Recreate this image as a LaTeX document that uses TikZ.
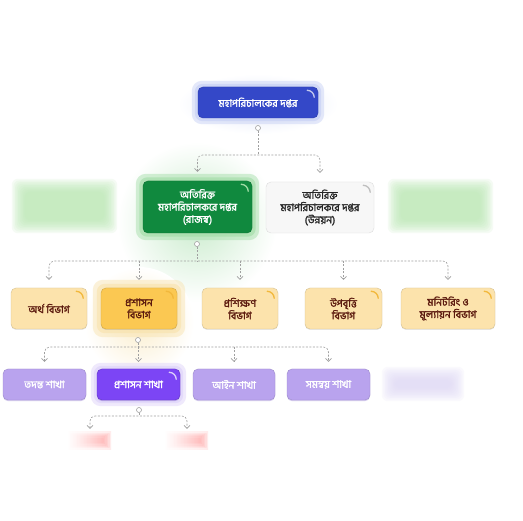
\documentclass[tikz,border=0pt]{standalone}
\usepackage{fontspec}
\newfontfamily\bnfont[Script=Bengali, AutoFakeBold=2]{Hind Siliguri}
\usetikzlibrary{arrows.meta,shadows}
\definecolor{dgblue}{RGB}{52,72,200}
\definecolor{dgglow}{RGB}{196,206,244}
\definecolor{revgreen}{RGB}{16,137,62}
\definecolor{revglow}{RGB}{160,220,165}
\definecolor{devfill}{RGB}{247,247,247}
\definecolor{devline}{RGB}{221,221,221}
\definecolor{deptfill}{RGB}{252,227,172}
\definecolor{depthot}{RGB}{251,200,82}
\definecolor{deptglow}{RGB}{248,226,172}
\definecolor{deptarc}{RGB}{242,184,60}
\definecolor{depttext}{RGB}{92,26,14}
\definecolor{brfill}{RGB}{185,163,238}
\definecolor{brhot}{RGB}{124,69,245}
\definecolor{brglow}{RGB}{220,208,250}
\definecolor{brshade}{RGB}{120,90,200}
\definecolor{linkgray}{RGB}{160,160,160}
\definecolor{hazegreen}{RGB}{180,230,172}
\definecolor{hazepurple}{RGB}{222,214,246}
\definecolor{hazered}{RGB}{255,160,160}
\tikzset{
  box/.style={rectangle, rounded corners=5pt, align=center, inner sep=1pt,
    font=\bnfont\bfseries\fontsize{10.3}{12.3}\selectfont},
  dgbox/.style={box, fill=dgblue, draw=dgblue!85!black, text=white, minimum width=120pt, minimum height=31pt},
  revbox/.style={box, fill=revgreen, draw=revgreen!85!black, text=white, minimum width=109pt, minimum height=52pt},
  devbox/.style={box, fill=devfill, draw=devline, text=black!85, minimum width=108pt, minimum height=51pt},
  deptbox/.style={box, fill=deptfill, draw=deptfill!85!black, text=depttext, minimum width=76pt, minimum height=41pt,
    drop shadow={shadow xshift=0pt, shadow yshift=-1pt, opacity=0.18}},
  depthl/.style={deptbox, fill=depthot, draw=depthot!85!black},
  brbox/.style={box, fill=brfill, draw=brfill!85!black, text=white, minimum width=83pt, minimum height=31pt,
    drop shadow={shadow xshift=0pt, shadow yshift=-1.2pt, opacity=0.3, fill=brshade}},
  brhl/.style={brbox, fill=brhot, draw=brhot!80!black},
  ghost/.style={rectangle, inner sep=0pt},
  hub/.style={circle, draw=linkgray, fill=white, line width=0.6pt, minimum size=5pt, inner sep=0pt},
  trunk/.style={draw=linkgray, line width=0.6pt, dash pattern=on 2pt off 1.5pt},
  link/.style={trunk, rounded corners=5pt},
  tip/.tip={Straight Barb[length=3pt, width=6pt]},
  corner/.style={line width=1.3pt, line cap=round},
}
\newcommand\hazebox[3]{% name, colour, corner radius
  \foreach \k in {0,...,8}{
    \fill[#2, opacity=0.13, rounded corners=#3]
      ([shift={(1.6*\k,1.6*\k)}]#1.north west) rectangle ([shift={(-1.6*\k,-1.6*\k)}]#1.south east);}}
\newcommand\haloof[3]{% name, colour, size
  \fill[#2, opacity=0.45, rounded corners=10pt]
    ([shift={(-#3,-#3)}]#1.north west) rectangle ([shift={(#3,#3)}]#1.south east);
  \fill[#2, opacity=0.6, rounded corners=8pt]
    ([shift={(-#3/2,-#3/2)}]#1.north west) rectangle ([shift={(#3/2,#3/2)}]#1.south east);}
\newcommand\cornerarc[2]{% name, colour
  \draw[corner, #2] ([xshift=-11pt, yshift=-3.5pt]#1.north east) arc[start angle=90, end angle=0, radius=7pt];}
\begin{document}
\begin{tikzpicture}[x=1pt, y=-1pt]
  \useasboundingbox[fill=white] (0,0) rectangle (523,521);
  % soft background glows
  \shade[inner color=revglow!55, outer color=white] (197,222) circle (80);
  \shade[inner color=deptglow!60, outer color=white] (139,322) circle (55);
  \shade[inner color=dgglow!50, outer color=white] (258,104) ellipse (80 and 30);

  % top level
  \node[dgbox] (dg) at (258,102.5) {মহাপরিচালকের দপ্তর};
  % additional DG offices
  \node[ghost, minimum width=105pt, minimum height=54pt] (gleft) at (64.5,206) {};
  \node[ghost, minimum width=105pt, minimum height=54pt] (gright) at (440.5,206) {};
  \node[revbox] (rev) at (197.5,207) {অতিরিক্ত\\মহাপরিচালকরে দপ্তর\\(রাজস্ব)};
  \node[devbox] (dev) at (320,207.5) {অতিরিক্ত\\মহাপরিচালকরে দপ্তর\\(উন্নয়ন)};
  % departments
  \node[deptbox] (dfin) at (49,308.5) {অর্থ বিভাগ};
  \node[depthl] (dadm) at (139,308.5) {প্রশাসন\\বিভাগ};
  \node[deptbox] (dtrn) at (240,308.5) {প্রশিক্ষণ\\বিভাগ};
  \node[deptbox, minimum width=77pt] (dstp) at (343.5,308.5) {উপবৃত্তি\\বিভাগ};
  \node[deptbox, minimum width=94pt] (dmon) at (448,308.5) {মনিটরিং ও\\মূল্যায়ন বিভাগ};
  % branches
  \node[brbox] (btdn) at (44.5,384.5) {তদন্ত শাখা};
  \node[brhl] (badm) at (138.5,384.5) {প্রশাসন শাখা};
  \node[brbox, minimum width=82pt] (blaw) at (234,384.5) {আইন শাখা};
  \node[brbox] (bcrd) at (328.5,384.5) {সমন্বয় শাখা};
  \node[ghost, minimum width=82pt, minimum height=34pt] (bmore) at (423,384) {};
  % sub-branches
  \node[ghost, minimum width=42pt, minimum height=17pt] (sone) at (90,440.5) {};
  \node[ghost, minimum width=42pt, minimum height=17pt] (stwo) at (187,440.5) {};

  % blurred placeholders
  \hazebox{gleft}{hazegreen}{6pt}
  \hazebox{gright}{hazegreen}{6pt}
  \hazebox{bmore}{hazepurple}{6pt}
  \foreach \s in {sone,stwo}{
    \foreach \k in {0,...,5}{
      \shade[left color=hazered!10, right color=hazered, opacity=0.2]
        ([shift={(1.5*\k,1.3*\k)}]\s.north west) rectangle ([shift={(-1.5*\k,-1.3*\k)}]\s.south east);}}

  % halos, then the active boxes again on top
  \haloof{dg}{dgglow}{6}
  \haloof{rev}{revglow}{7}
  \haloof{dadm}{deptglow}{8}
  \haloof{badm}{brglow}{6}
  \node[dgbox] at (dg) {মহাপরিচালকের দপ্তর};
  \node[revbox] at (rev) {অতিরিক্ত\\মহাপরিচালকরে দপ্তর\\(রাজস্ব)};
  \node[depthl] at (dadm) {প্রশাসন\\বিভাগ};
  \node[brhl] at (badm) {প্রশাসন শাখা};

  % corner marks
  \cornerarc{dg}{white!70!dgblue}
  \cornerarc{rev}{revglow}
  \cornerarc{dev}{black!25}
  \foreach \d in {dfin,dadm,dtrn,dstp,dmon}{\cornerarc{\d}{deptarc}}
  \cornerarc{badm}{brglow}

  % connectors
  \node[hub] (h0) at (258,128) {};
  \node[hub] (h1) at (197,244) {};
  \node[hub] (h2) at (138,340) {};
  \node[hub] (h3) at (139,410) {};
  \coordinate (bus0) at (0,155);
  \coordinate (bus1) at (0,261);
  \coordinate (bus2) at (0,347);
  \coordinate (bus3) at (0,416);

  \draw[trunk] (h0.south) -- (h0 |- bus0);
  \draw[link, tip-tip] ([yshift=9pt]rev.north) -- (rev.north |- bus0) -- (dev.north |- bus0) -- ([yshift=9pt]dev.north);

  \draw[trunk] (h1.south) -- (h1 |- bus1);
  \draw[link, tip-tip] ([yshift=8pt]dfin.north) -- (dfin.north |- bus1) -- (dmon.north |- bus1) -- ([yshift=8pt]dmon.north);
  \foreach \d in {dadm,dtrn,dstp}{
    \draw[trunk, -tip] (\d.north |- bus1) -- ([yshift=8pt]\d.north);}

  \draw[trunk] (h2.south) -- (h2 |- bus2);
  \draw[link, tip-tip] ([yshift=7pt]btdn.north) -- (btdn.north |- bus2) -- (bcrd.north |- bus2) -- ([yshift=7pt]bcrd.north);
  \foreach \b in {badm,blaw}{
    \draw[trunk, -tip] (\b.north |- bus2) -- ([yshift=7pt]\b.north);}

  \draw[trunk] (h3.south) -- (h3 |- bus3);
  \draw[link, tip-tip] ([yshift=3pt]sone.north) -- (sone.north |- bus3) -- (stwo.north |- bus3) -- ([yshift=3pt]stwo.north);
\end{tikzpicture}
\end{document}
